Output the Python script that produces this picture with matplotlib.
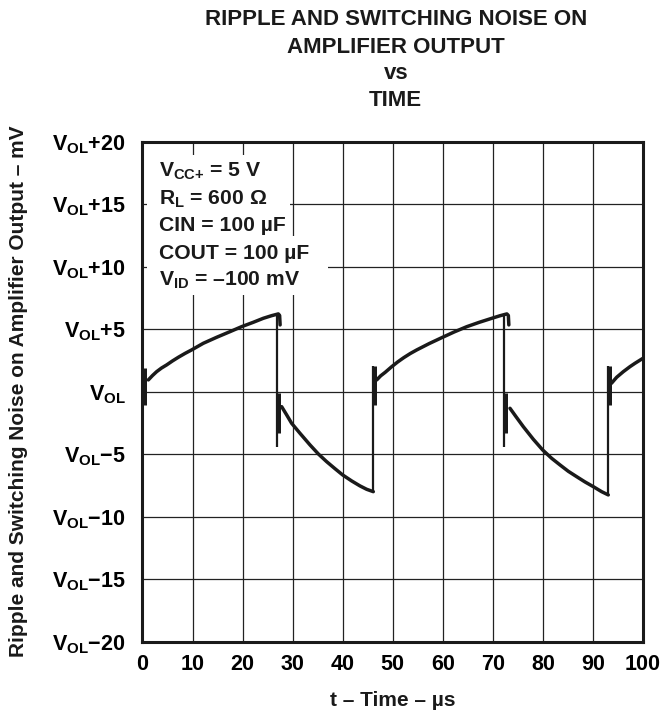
import matplotlib
matplotlib.use('Agg')
import matplotlib.pyplot as plt
from matplotlib.patches import Rectangle

plt.rcParams['font.family'] = ['Liberation Sans', 'DejaVu Sans']
plt.rcParams['font.weight'] = 'bold'
plt.rcParams['mathtext.fontset'] = 'custom'
plt.rcParams['mathtext.rm'] = 'Liberation Sans:bold'
plt.rcParams['mathtext.it'] = 'Liberation Sans:bold'
plt.rcParams['mathtext.bf'] = 'Liberation Sans:bold'

# traced waveform segments (t in us, v in mV relative to VOL)
rise1_t = [1.17, 2.0, 2.83, 3.8, 4.83, 6.0, 7.16, 8.5, 9.82, 12.15, 14.82,
           17.48, 19.81, 22.14, 24.14, 25.81, 27.14, 27.4, 27.5]
rise1_v = [0.94, 1.29, 1.60, 1.89, 2.14, 2.46, 2.75, 3.06, 3.34, 3.87, 4.35,
           4.80, 5.20, 5.55, 5.87, 6.08, 6.22, 6.1, 5.34]
decay1_t = [27.81, 28.81, 29.80, 31.47, 33.47, 35.13, 36.80, 38.46, 39.99,
            41.79, 43.46, 44.79, 46.12]
decay1_v = [-1.20, -1.86, -2.53, -3.33, -4.26, -4.98, -5.60, -6.16, -6.66,
            -7.14, -7.54, -7.81, -8.00]
rise2_t = [46.8, 47.6, 48.5, 49.8, 51.0, 52.2, 53.5, 54.8, 57.3, 59.8, 62.3,
           64.8, 67.3, 69.8, 71.4, 72.8, 73.1, 73.2]
rise2_v = [0.94, 1.27, 1.55, 2.0, 2.38, 2.72, 3.05, 3.34, 3.85, 4.32, 4.78,
           5.2, 5.55, 5.87, 6.07, 6.22, 6.1, 5.34]
decay2_t = [73.43, 74.63, 76.09, 78.09, 79.95, 81.75, 83.42, 85.08, 86.75,
            88.41, 90.08, 91.74, 93.07]
decay2_v = [-1.33, -2.0, -2.80, -3.81, -4.66, -5.33, -5.86, -6.37, -6.80,
            -7.22, -7.60, -8.00, -8.26]
rise3_t = [93.7, 94.74, 96.07, 97.4, 98.4, 100.0]
rise3_v = [0.67, 1.15, 1.60, 2.0, 2.27, 2.67]

# switching edges
fall_t = [26.8, 72.3]
fall_top = [6.22, 6.22]
fall_bottom = [-4.4, -4.4]
up_t = [46.1, 93.1]
up_bottom = [-8.0, -8.26]
up_top = [2.06, 2.06]

# switching glitches
glitch_hi_t = [0.3, 46.3, 93.3]
glitch_hi_top = [1.9, 2.06, 2.06]
glitch_hi_bot = [-1.1, -1.06, -1.06]
glitch_lo_t = [27.0, 72.5]
glitch_lo_top = [-0.1, -0.1]
glitch_lo_bot = [-3.3, -3.3]

xticks = [0, 10, 20, 30, 40, 50, 60, 70, 80, 90, 100]
yticks = [20, 15, 10, 5, 0, -5, -10, -15, -20]
ylabels = [r'$V_{OL}$+20', r'$V_{OL}$+15', r'$V_{OL}$+10', r'$V_{OL}$+5',
           r'$V_{OL}$', r'$V_{OL}$$-$5', r'$V_{OL}$$-$10', r'$V_{OL}$$-$15',
           r'$V_{OL}$$-$20']

fig = plt.figure(figsize=(6.63, 7.14), dpi=100)
ax = fig.add_axes([0.2149, 0.1013, 0.7549, 0.7003])

lc = '#1a1a1a'
ax.set_xlim(0, 100)
ax.set_ylim(-20, 20)
ax.set_xticks(xticks)
ax.set_yticks(yticks)
ax.set_xticklabels([str(x) for x in xticks], fontsize=15.5, fontweight='bold')
ax.set_yticklabels(ylabels, fontsize=15.5, fontweight='bold')
ax.tick_params(length=0, pad=9)
ax.tick_params(axis='y', pad=12)
ax.grid(True, color='#222222', lw=0.9)
ax.set_axisbelow(True)
for s in ax.spines.values():
    s.set_linewidth(2.2)
    s.set_color(lc)

# white blocks behind the conditions text
ax.add_patch(Rectangle((0.009, 0.809), 0.286, 0.164, transform=ax.transAxes,
                       fc='white', ec='none', zorder=1.5))
ax.add_patch(Rectangle((0.009, 0.693), 0.362, 0.118, transform=ax.transAxes,
                       fc='white', ec='none', zorder=1.5))

for t, v in [(rise1_t, rise1_v), (decay1_t, decay1_v), (rise2_t, rise2_v),
             (decay2_t, decay2_v), (rise3_t, rise3_v)]:
    ax.plot(t, v, color=lc, lw=2.5, solid_capstyle='round',
            solid_joinstyle='round', zorder=3)
ax.vlines(fall_t, fall_bottom, fall_top, color=lc, lw=1.6, zorder=3)
ax.vlines(up_t, up_bottom, up_top, color=lc, lw=1.6, zorder=3)
ax.vlines(glitch_hi_t, glitch_hi_bot, glitch_hi_top, color=lc, lw=3.6, zorder=3)
ax.vlines(glitch_lo_t, glitch_lo_bot, glitch_lo_top, color=lc, lw=3.6, zorder=3)

cond = [(r'$V_{CC{+}}$ = 5 V', 17.18), (r'$R_L$ = 600 Ω', 14.94),
        ('CIN = 100 µF', 12.86), ('COUT = 100 µF', 10.62),
        (r'$V_{ID}$ = –100 mV', 8.46)]
for txt, yb in cond:
    ax.text(3.3, yb, txt, fontsize=15.2, fontweight='bold', va='baseline',
            ha='left', color=lc, zorder=4)

title = ['RIPPLE AND SWITCHING NOISE ON', 'AMPLIFIER OUTPUT', 'vs', 'TIME']
for line, yb in zip(title, [0.965, 0.926, 0.8893, 0.8515]):
    fig.text(0.597, yb, line, fontsize=16, fontweight='bold', ha='center',
             va='baseline', color=lc)

fig.text(0.592, 0.0196, 't – Time – µs', fontsize=15, fontweight='bold',
         ha='center', va='center', color=lc)
fig.text(0.028, 0.4514, 'Ripple and Switching Noise on Amplifier Output – mV',
         fontsize=15, fontweight='bold', rotation=90, ha='center',
         va='center', color=lc)

fig.savefig('out.png', dpi=100)
